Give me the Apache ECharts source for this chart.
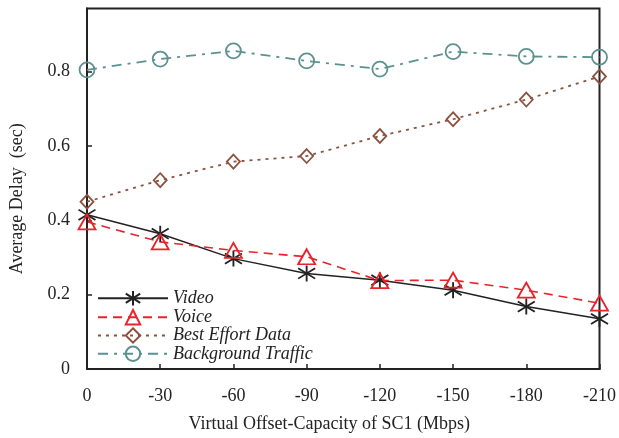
<!DOCTYPE html>
<html>
<head>
<meta charset="utf-8">
<script src="https://cdn.jsdelivr.net/npm/echarts@6/dist/echarts.min.js"></script>
<style>html,body{margin:0;padding:0;background:#fff;}#c{width:619px;height:438px;}</style>
</head>
<body>
<div id="c"></div>
<script>
const categories = ['0', '-30', '-60', '-90', '-120', '-150', '-180', '-210'];
const videoDelay = [0.415, 0.364, 0.297, 0.257, 0.239, 0.212, 0.168, 0.135];
const voiceDelay = [0.396, 0.342, 0.319, 0.302, 0.238, 0.239, 0.212, 0.177];
const bestEffortDelay = [0.450, 0.508, 0.558, 0.573, 0.627, 0.672, 0.725, 0.787];
const backgroundDelay = [0.805, 0.834, 0.856, 0.829, 0.807, 0.854, 0.841, 0.839];
const yTicks = [0, 0.2, 0.4, 0.6, 0.8];

const FONT = 'Liberation Serif';
const chart = echarts.init(document.getElementById('c'), null, {renderer: 'canvas'});

const asterisk = 'path://M0,-7L0,7M-7,-4.5L7,4.5M-7,4.5L7,-4.5';

chart.setOption({
  animation: false,
  backgroundColor: '#fff',
  grid: {left: 87, right: 16, top: 8.5, bottom: 67, show: true, borderColor: '#222', borderWidth: 2, backgroundColor: 'transparent'},
  legend: {
    orient: 'vertical', left: 92, top: 283.5, itemWidth: 70, itemHeight: 18, itemGap: 0.3,
    textStyle: {fontFamily: FONT, fontStyle: 'italic', fontSize: 18, color: '#222'},
    data: ['Video', 'Voice', 'Best Effort Data', 'Background Traffic']
  },
  xAxis: {
    type: 'category', data: categories, boundaryGap: false,
    name: 'Virtual Offset-Capacity of SC1 (Mbps)', nameLocation: 'middle', nameGap: 46,
    nameTextStyle: {fontFamily: FONT, fontSize: 18, color: '#222', padding: [0, 28, 0, 0]},
    axisLine: {lineStyle: {color: '#222', width: 2}},
    axisTick: {inside: true, length: 5, lineStyle: {color: '#222', width: 1.5}},
    axisLabel: {fontFamily: FONT, fontSize: 18, color: '#222', margin: 18},
    splitLine: {show: false}
  },
  yAxis: {
    type: 'value', min: 0, max: 0.97, interval: 0.2,
    name: 'Average Delay  (sec)', nameLocation: 'middle', nameGap: 61,
    nameTextStyle: {fontFamily: FONT, fontSize: 18, color: '#222', padding: [0, 20, 0, 0]},
    axisLine: {show: true, lineStyle: {color: '#222', width: 2}},
    axisTick: {show: true, inside: true, length: 5, lineStyle: {color: '#222', width: 1.5}, customValues: yTicks},
    axisLabel: {fontFamily: FONT, fontSize: 18, color: '#222', margin: 17, customValues: yTicks,
      formatter: v => v === 0 ? '0' : v.toFixed(1)},
    splitLine: {show: false}
  },
  series: [
    {
      name: 'Video', type: 'line', data: videoDelay,
      symbol: asterisk, symbolSize: [17, 16], symbolKeepAspect: false,
      lineStyle: {color: '#222', width: 1.5, type: 'solid'},
      itemStyle: {color: 'none', borderColor: '#222', borderWidth: 1.8}
    },
    {
      name: 'Voice', type: 'line', data: voiceDelay,
      symbol: 'triangle', symbolSize: [17, 15],
      lineStyle: {color: '#e8232b', width: 1.6, type: [9, 6]},
      itemStyle: {color: 'transparent', borderColor: '#e8232b', borderWidth: 1.8}
    },
    {
      name: 'Best Effort Data', type: 'line', data: bestEffortDelay,
      symbol: 'diamond', symbolSize: [13, 14],
      lineStyle: {color: '#8b5240', width: 1.8, type: [3, 5]},
      itemStyle: {color: 'transparent', borderColor: '#8b5240', borderWidth: 1.8}
    },
    {
      name: 'Background Traffic', type: 'line', data: backgroundDelay,
      symbol: 'circle', symbolSize: 15,
      lineStyle: {color: '#5b928e', width: 1.8, type: [10, 6, 3, 6]},
      itemStyle: {color: 'transparent', borderColor: '#5b928e', borderWidth: 1.8}
    }
  ]
});
</script>
</body>
</html>
